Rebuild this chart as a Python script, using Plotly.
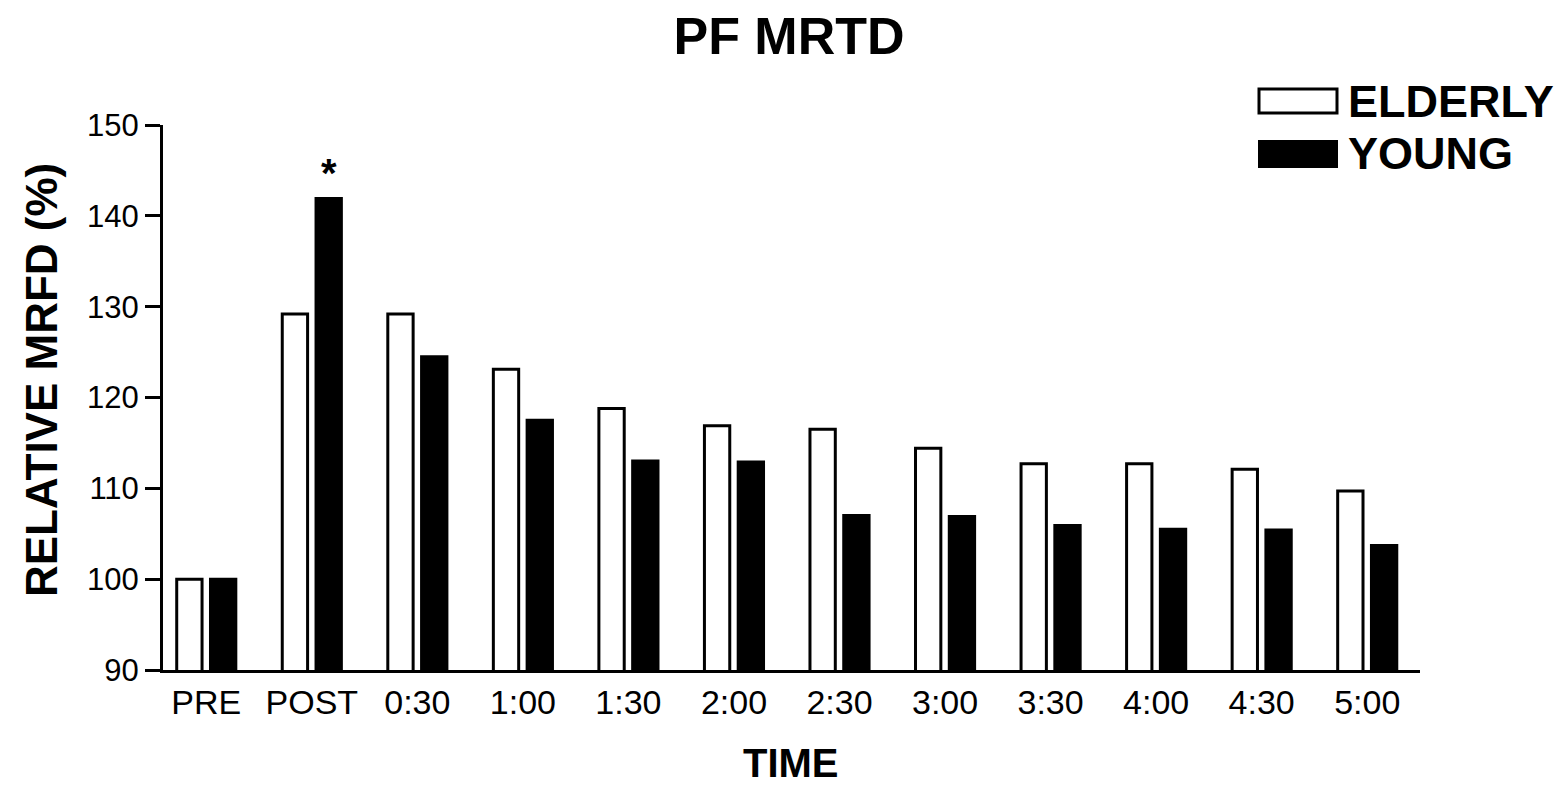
import plotly.graph_objects as go

categories = ["PRE", "POST", "0:30", "1:00", "1:30", "2:00", "2:30", "3:00", "3:30", "4:00", "4:30", "5:00"]
elderly = [100.0, 129.2, 129.2, 123.1, 118.8, 116.9, 116.5, 114.4, 112.7, 112.7, 112.1, 109.7]
young = [100.0, 141.9, 124.5, 117.5, 113.0, 112.9, 107.0, 106.9, 105.9, 105.5, 105.4, 103.7]
y_ticks = [90, 100, 110, 120, 130, 140, 150]

FONT = "Arial, Liberation Sans, sans-serif"

fig = go.Figure()
fig.add_trace(go.Bar(x=categories, y=elderly, name="ELDERLY",
                     marker=dict(color="white", line=dict(color="black", width=3))))
fig.add_trace(go.Bar(x=categories, y=young, name="YOUNG",
                     marker=dict(color="black", line=dict(color="black", width=3))))

W, H = 1568, 785
L, R, T, B = 163, 1420, 125, 670


def px(x):
    return (x - L) / (R - L)


def py(y):
    return (B - y) / (B - T)


fig.update_layout(
    width=W, height=H,
    margin=dict(l=L, r=W - R, t=T, b=H - B),
    paper_bgcolor="white", plot_bgcolor="white",
    barmode="group", bargap=0.36, bargroupgap=0.25,
    showlegend=False,
    font=dict(family=FONT, color="black"),
    title=dict(text="<b>PF MRTD</b>", x=789 / W, xanchor="center",
               y=1 - 36 / H, yanchor="middle", font=dict(size=52, family=FONT)),
)
fig.update_xaxes(type="category", range=[-0.41, 11.5], showline=True, linewidth=3,
                 linecolor="black", ticks="", showgrid=False, zeroline=False,
                 tickfont=dict(size=34, family=FONT))
fig.update_yaxes(range=[90, 150], tickvals=y_ticks, showline=True, linewidth=3,
                 linecolor="black", ticks="outside", ticklen=15, tickwidth=3,
                 tickcolor="black", showgrid=False, zeroline=False,
                 tickfont=dict(size=31, family=FONT))

# axis titles
fig.add_annotation(text="<b>RELATIVE MRFD (%)</b>", xref="paper", yref="paper",
                   x=px(41), y=py(380), textangle=-90, showarrow=False,
                   xanchor="center", yanchor="middle", font=dict(size=44, family=FONT))
fig.add_annotation(text="<b>TIME</b>", xref="paper", yref="paper",
                   x=px(791), y=py(763), showarrow=False,
                   xanchor="center", yanchor="middle", font=dict(size=40, family=FONT))

# significance marker
fig.add_annotation(text="<b>*</b>", x="POST", y=young[1], xshift=17, yshift=2,
                   showarrow=False, yanchor="bottom", font=dict(size=40, family=FONT))

# legend
fig.add_shape(type="rect", xref="paper", yref="paper", x0=px(1259), x1=px(1337),
              y0=py(113), y1=py(89), line=dict(color="black", width=3), fillcolor="white")
fig.add_shape(type="rect", xref="paper", yref="paper", x0=px(1259), x1=px(1337),
              y0=py(167), y1=py(141), line=dict(color="black", width=2), fillcolor="black")
fig.add_annotation(text="<b>ELDERLY</b>", xref="paper", yref="paper", x=px(1346), y=py(101),
                   showarrow=False, xanchor="left", yanchor="middle", font=dict(size=45, family=FONT))
fig.add_annotation(text="<b>YOUNG</b>", xref="paper", yref="paper", x=px(1346), y=py(154),
                   showarrow=False, xanchor="left", yanchor="middle", font=dict(size=45, family=FONT))

fig.write_html("out.html", config={"displayModeBar": False},
               post_script="document.body.style.margin='0';")
